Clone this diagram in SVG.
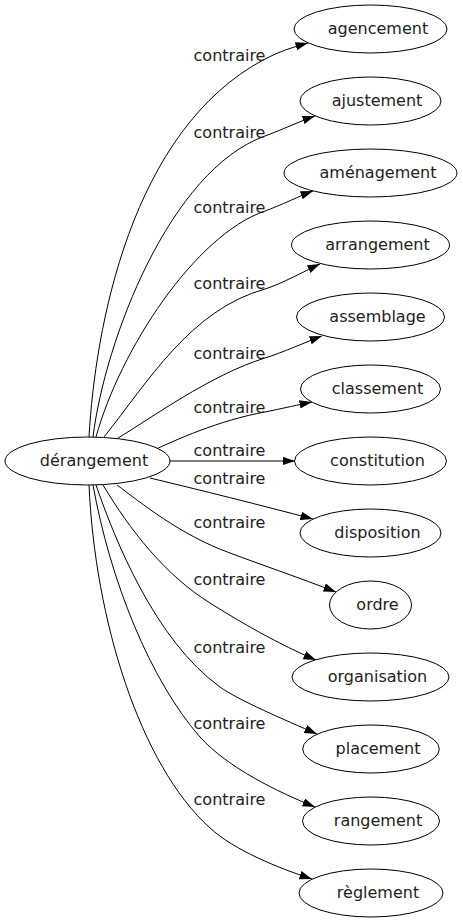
<svg xmlns="http://www.w3.org/2000/svg" width="463" height="923" viewBox="0 0 463 923">
<defs>
<marker id="arr" markerUnits="userSpaceOnUse" markerWidth="13" markerHeight="9" refX="12.5" refY="4.25" orient="auto">
<path d="M0,0 L12.5,4.25 L0,8.5 z" fill="#000"/>
</marker>
<style>
.node ellipse{fill:#fff;stroke:#000;stroke-width:1}
.node text{font-family:"DejaVu Sans",sans-serif;font-size:16px;fill:#222;text-anchor:middle}
.edges path{fill:none;stroke:#000;stroke-width:1;marker-end:url(#arr)}
.edges text{font-family:"DejaVu Sans",sans-serif;font-size:16px;fill:#222;text-anchor:middle}
</style>
</defs>
<rect width="463" height="923" fill="#fff"/>
<g id="edges" class="edges">
<path d="M89,437 C95,330 130,130 265,59 C278,52 293,47 308,43"/>
<path d="M93,437 C105,340 170,170 265,136 C279,131 303,120 315,116"/>
<path d="M96,437 C120,350 195,235 265,211 C279,206 302,195 313,191"/>
<path d="M104,437 C148,382 190,310 265,289 C279,285 309,269 320,264"/>
<path d="M118,438 C150,419 210,375 265,358 C279,354 311,340 322,336"/>
<path d="M150,452 C175,440 220,420 265,412 C280,409 302,404 312,402"/>
<path d="M170,461 L295,461"/>
<path d="M150,478 C200,490 260,505 313,519"/>
<path d="M117,485 C140,502 180,535 230,553 C262,565 300,578 336,592"/>
<path d="M103,485 C130,530 165,575 210,603 C240,622 280,645 316,660"/>
<path d="M96,485 C115,540 155,640 220,687 C238,700 285,720 317,734"/>
<path d="M93,485 C110,580 150,680 200,737 C228,768 278,792 315,807"/>
<path d="M89,485 C95,620 140,765 210,828 C234,850 278,868 312,879"/>
<text x="229.5" y="61">contraire</text>
<text x="229.5" y="138">contraire</text>
<text x="229.5" y="213">contraire</text>
<text x="229.5" y="289">contraire</text>
<text x="229.5" y="359">contraire</text>
<text x="229.5" y="413">contraire</text>
<text x="229.5" y="456">contraire</text>
<text x="229.5" y="484">contraire</text>
<text x="229.5" y="528">contraire</text>
<text x="229.5" y="585">contraire</text>
<text x="229.5" y="653">contraire</text>
<text x="229.5" y="729">contraire</text>
<text x="229.5" y="805">contraire</text>
</g>
<g id="derangement" class="node"><ellipse cx="87.5" cy="461" rx="82.5" ry="24"/><text x="94" y="466">dérangement</text></g>
<g id="agencement" class="node"><ellipse cx="370.5" cy="29" rx="76.5" ry="24"/><text x="378" y="34">agencement</text></g>
<g id="ajustement" class="node"><ellipse cx="370.5" cy="101" rx="70.5" ry="24"/><text x="377" y="106">ajustement</text></g>
<g id="amenagement" class="node"><ellipse cx="370.5" cy="173" rx="86.5" ry="24"/><text x="378" y="178">aménagement</text></g>
<g id="arrangement" class="node"><ellipse cx="370.5" cy="245" rx="79" ry="24"/><text x="377.5" y="250">arrangement</text></g>
<g id="assemblage" class="node"><ellipse cx="370.5" cy="317" rx="74" ry="24"/><text x="377.5" y="322">assemblage</text></g>
<g id="classement" class="node"><ellipse cx="370.5" cy="389" rx="70" ry="24"/><text x="377.5" y="394">classement</text></g>
<g id="constitution" class="node"><ellipse cx="370.5" cy="461" rx="76" ry="24"/><text x="377.5" y="466">constitution</text></g>
<g id="disposition" class="node"><ellipse cx="370.5" cy="533" rx="70.5" ry="24"/><text x="377.5" y="538">disposition</text></g>
<g id="ordre" class="node"><ellipse cx="370.5" cy="605" rx="41" ry="24"/><text x="377.5" y="610">ordre</text></g>
<g id="organisation" class="node"><ellipse cx="370.5" cy="677" rx="78.5" ry="24"/><text x="377.5" y="682">organisation</text></g>
<g id="placement" class="node"><ellipse cx="371" cy="749" rx="68.3" ry="24"/><text x="378" y="754">placement</text></g>
<g id="rangement" class="node"><ellipse cx="371" cy="821" rx="68.5" ry="24"/><text x="378" y="826">rangement</text></g>
<g id="reglement" class="node"><ellipse cx="371" cy="893" rx="72" ry="24"/><text x="378" y="898">règlement</text></g>
</svg>
